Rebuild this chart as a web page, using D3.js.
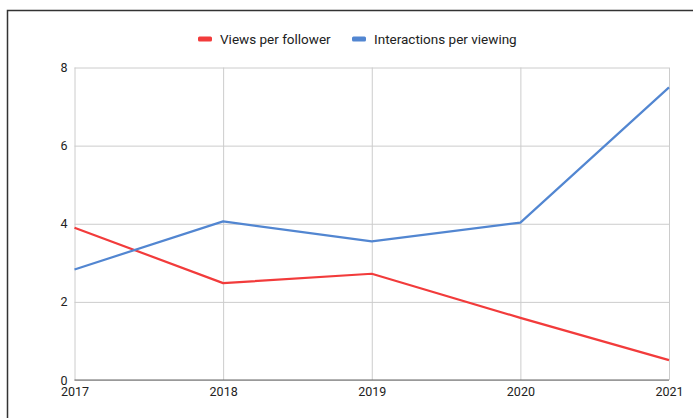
<!DOCTYPE html>
<html>
<head>
<meta charset="utf-8">
<script src="https://cdn.jsdelivr.net/npm/d3@7/dist/d3.min.js"></script>
<style>
  html, body { margin: 0; padding: 0; background: #fff; }
  svg { display: block; }
  text { font-family: Roboto, Arial, sans-serif; }
</style>
</head>
<body>
<script>
// Yearly metrics
const years = ["2017", "2018", "2019", "2020", "2021"];
const viewsPerFollower = [3.90, 2.48, 2.72, 1.59, 0.51];
const interactionsPerViewing = [2.83, 4.06, 3.55, 4.03, 7.49];
const yTicks = [0, 2, 4, 6, 8];

const seriesNames = ["Views per follower", "Interactions per viewing"];
const seriesColors = ["#f23b3b", "#5286d1"];

const W = 693, H = 418;
const plot = { left: 74.5, right: 669, top: 67.5, bottom: 380 };

const svg = d3.select("body").append("svg")
  .attr("width", W).attr("height", H);

// container frame (left and top edges visible)
svg.append("path")
  .attr("d", `M7.5,${H} V10.5 H${W}`)
  .attr("fill", "none")
  .attr("stroke", "#333")
  .attr("stroke-width", 1.5);

const x = d3.scalePoint().domain(years).range([plot.left, plot.right]);
const y = d3.scaleLinear().domain([0, 8]).range([plot.bottom, plot.top]);

// horizontal gridlines + y labels
const yAxis = d3.axisLeft(y).tickValues(yTicks).tickSize(-(plot.right - plot.left)).tickPadding(7);
const gy = svg.append("g").attr("transform", `translate(${plot.left},0)`).call(yAxis);
gy.select(".domain").remove();
gy.selectAll(".tick line").attr("stroke", "#cccccc").attr("stroke-width", 1);
gy.selectAll(".tick text").attr("fill", "#222").style("font-size", "12.5px").attr("font-family", "Roboto, Arial, sans-serif");

// vertical gridlines + x labels
const xAxis = d3.axisBottom(x).tickSize(-(plot.bottom - plot.top)).tickPadding(7);
const gx = svg.append("g").attr("transform", `translate(0,${plot.bottom})`).call(xAxis);
gx.select(".domain").remove();
gx.selectAll(".tick line").attr("stroke", "#cccccc").attr("stroke-width", 1);
gx.selectAll(".tick text").attr("fill", "#222").style("font-size", "12.5px").attr("font-family", "Roboto, Arial, sans-serif");

// baseline
svg.append("line")
  .attr("x1", plot.left).attr("x2", plot.right)
  .attr("y1", y(0)).attr("y2", y(0))
  .attr("stroke", "#666").attr("stroke-width", 1.2);

// series lines
const line = d3.line().x((d, i) => x(years[i])).y(d => y(d));
[viewsPerFollower, interactionsPerViewing].forEach((vals, k) => {
  svg.append("path")
    .datum(vals)
    .attr("d", line)
    .attr("fill", "none")
    .attr("stroke", seriesColors[k])
    .attr("stroke-width", 2.2)
    .attr("stroke-linejoin", "round");
});

// legend
const legend = svg.append("g").attr("transform", "translate(0,39)");
const legendX = [198, 352];
seriesNames.forEach((name, k) => {
  const g = legend.append("g").attr("transform", `translate(${legendX[k]},0)`);
  g.append("rect").attr("x", 0).attr("y", -2.5).attr("width", 14).attr("height", 5)
    .attr("rx", 1.5).attr("fill", seriesColors[k]);
  g.append("text").attr("x", 22).attr("y", 0).attr("dy", "0.35em")
    .attr("fill", "#222").style("font-size", "13.5px").text(name);
});
</script>
</body>
</html>
